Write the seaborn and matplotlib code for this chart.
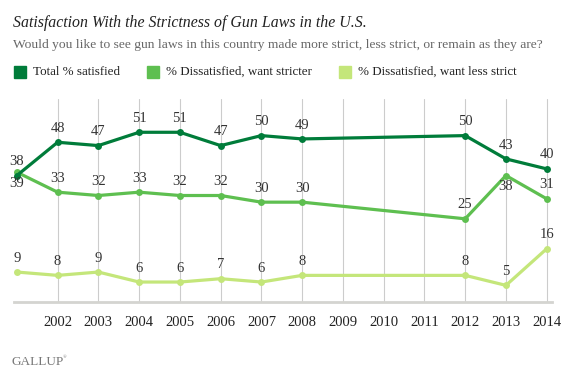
import pandas as pd
import seaborn as sns
import matplotlib.pyplot as plt
from matplotlib.patches import Rectangle

years = [2001, 2002, 2003, 2004, 2005, 2006, 2007, 2008, 2012, 2013, 2014]
satisfied = [38, 48, 47, 51, 51, 47, 50, 49, 50, 43, 40]
stricter = [39, 33, 32, 33, 32, 32, 30, 30, 25, 38, 31]
less_strict = [9, 8, 9, 6, 6, 7, 6, 8, 8, 5, 16]
tick_years = list(range(2002, 2015))
series_names = ['Total % satisfied', '% Dissatisfied, want stricter', '% Dissatisfied, want less strict']
colors = ['#007c3a', '#5ebf50', '#c4e67a']

df = pd.DataFrame({
    'year': years * 3,
    'value': satisfied + stricter + less_strict,
    'series': [series_names[0]] * len(years) + [series_names[1]] * len(years) + [series_names[2]] * len(years),
})

sns.set_style('white')
plt.rcParams['font.family'] = ['Liberation Serif', 'DejaVu Serif']

fig = plt.figure(figsize=(5.77, 3.81), dpi=100)
ax = fig.add_axes([14 / 577, 1 - 302 / 381, (552 - 14) / 577, (302 - 99) / 381])

# draw back to front so the dark line sits on top
for name, col in reversed(list(zip(series_names, colors))):
    sub = df[df['series'] == name]
    sns.lineplot(data=sub, x='year', y='value', ax=ax, color=col, linewidth=2.3,
                 marker='o', markersize=5, markeredgewidth=0, legend=False, zorder=3)

ax.set_xlim(2000.93, 2014.13)
ax.set_ylim(0, 61)
ax.set_xticks(tick_years)
ax.set_xticklabels([str(y) for y in tick_years], fontsize=10.5, color='#222222')
ax.set_yticks([])
ax.tick_params(axis='x', length=0, pad=10)
ax.set_xlabel('')
ax.set_ylabel('')
for y in tick_years:
    ax.axvline(y, color='#cccccc', linewidth=0.8, zorder=1)
for s in ['top', 'right', 'left']:
    ax.spines[s].set_visible(False)
ax.spines['bottom'].set_color('#d4d4d0')
ax.spines['bottom'].set_linewidth(2)

# value labels
lab = dict(fontsize=10.5, color='#333333', ha='center', va='center', textcoords='offset points', annotation_clip=False)
for x, v in zip(years, satisfied):
    ax.annotate(str(v), (x, v), xytext=(0, 10), **lab)
for x, v in zip(years, stricter):
    dy = -8 if x in (2001, 2013) else 10
    ax.annotate(str(v), (x, v), xytext=(0, dy), **lab)
for x, v in zip(years, less_strict):
    ax.annotate(str(v), (x, v), xytext=(0, 10), **lab)

# title, subtitle
fig.text(13 / 577, 1 - 23 / 381, 'Satisfaction With the Strictness of Gun Laws in the U.S.',
         fontsize=11.4, style='italic', color='#222222', va='center')
fig.text(13 / 577, 1 - 45 / 381,
         'Would you like to see gun laws in this country made more strict, less strict, or remain as they are?',
         fontsize=9.7, color='#666666', va='center')

# legend
for xpos, name, col in zip([14, 147, 339], series_names, colors):
    fig.patches.append(Rectangle((xpos / 577, 1 - 78 / 381), 12 / 577, 12 / 381,
                                 transform=fig.transFigure, color=col))
    fig.text((xpos + 19) / 577, 1 - 72 / 381, name, fontsize=9.4, color='#222222', va='center')

fig.text(12 / 577, 1 - 362 / 381, 'GALLUP', fontsize=9.5, color='#777777', va='center')
fig.text(63 / 577, 1 - 357 / 381, '®', fontsize=3.5, color='#777777', va='center')

fig.savefig('out.png', dpi=100)
